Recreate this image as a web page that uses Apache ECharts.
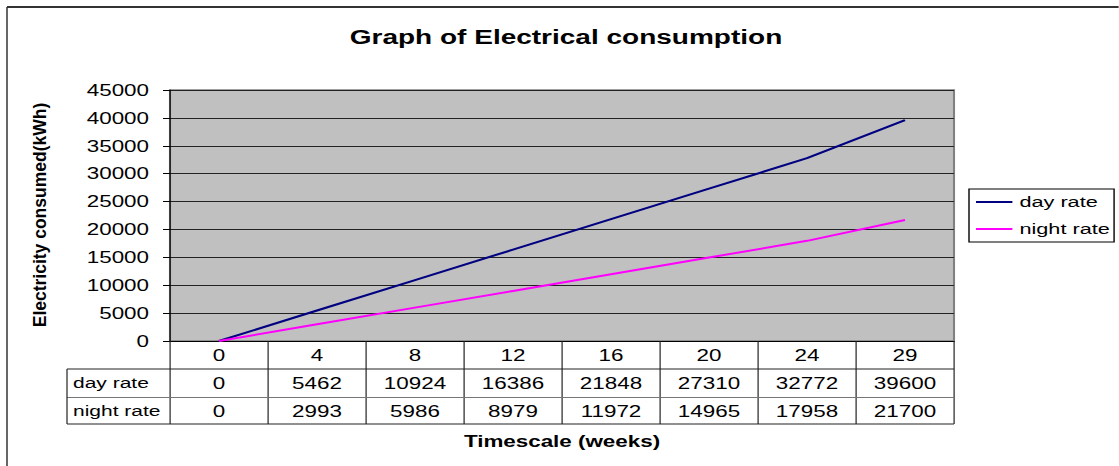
<!DOCTYPE html>
<html>
<head>
<meta charset="utf-8">
<script src="https://cdn.jsdelivr.net/npm/echarts@6/dist/echarts.min.js"></script>
<style>
  html, body { margin: 0; padding: 0; background: #fff; overflow: hidden; }
  #wrap { width: 1119px; height: 466px; overflow: hidden; }
  /* the chart is laid out narrow and widened, giving its wide-set lettering */
  #chart { height: 466px; transform-origin: 0 0; }
</style>
</head>
<body>
<div id="wrap"><div id="chart"></div></div>
<script>
// Electrical consumption over time, day and night tariffs
const weeks = ['0', '4', '8', '12', '16', '20', '24', '29'];
const dayRate = [0, 5462, 10924, 16386, 21848, 27310, 32772, 39600];
const nightRate = [0, 2993, 5986, 8979, 11972, 14965, 17958, 21700];
const seriesNames = ['day rate', 'night rate'];
const yMin = 0, yMax = 45000, yStep = 5000;

const titleText = 'Graph of Electrical consumption';
const xTitle = 'Timescale (weeks)';
const yTitle = 'Electricity consumed(kWh)';

// horizontal widening factor
const K = 1.4;
const W = 1119 / K, H = 466;
const el = document.getElementById('chart');
el.style.width = W + 'px';
el.style.transform = 'scaleX(' + K + ')';

const FONT = '"Liberation Sans", Arial, Helvetica, sans-serif';

// plot frame (y in px, x in unwidened px)
const GL = 170 / K, GR = 954 / K, GT = 90, GB = 341;
const ROW_H = 28;
const TABLE_L = 67 / K;
const rowY1 = GB + ROW_H, rowY2 = GB + 2 * ROW_H + 0.5, rowY3 = 424;

const chart = echarts.init(el, null, { renderer: 'svg', width: W, height: H });

function hLine(x1, x2, y, color, w) {
  return { type: 'line', silent: true, z: 50,
    shape: { x1: x1, y1: y, x2: x2, y2: y },
    style: { stroke: color, lineWidth: w } };
}
function vLine(x, y1, y2, color, w) {
  return { type: 'line', silent: true, z: 50,
    shape: { x1: x, y1: y1, x2: x, y2: y2 },
    style: { stroke: color, lineWidth: w } };
}

const option = {
  backgroundColor: '#fff',
  animation: false,
  grid: {
    left: GL, top: GT, width: GR - GL, height: GB - GT,
    show: true, backgroundColor: '#C0C0C0', borderColor: '#808080', borderWidth: 1.5,
    containLabel: false
  },
  legend: {
    orient: 'vertical',
    left: 969 / K, top: 189,
    data: seriesNames,
    icon: 'rect', itemWidth: 26, itemHeight: 2, itemGap: 11,
    padding: [5, 3, 5, 5],
    borderColor: '#000', borderWidth: 1,
    textStyle: { color: '#000', fontFamily: FONT, fontSize: 15.5 }
  },
  xAxis: {
    type: 'category',
    data: weeks,
    boundaryGap: true,
    axisLine: { show: true, lineStyle: { color: '#000', width: 1.2 } },
    axisTick: { show: true, inside: false, length: rowY3 - GB, alignWithLabel: false,
      lineStyle: { color: '#222', width: 1 / K * 1.2 } },
    splitLine: { show: false },
    axisLabel: {
      interval: 0, margin: 0, hideOverlap: false,
      formatter: function (v, i) {
        return '{c|' + v + '}\n{v|' + dayRate[i] + '}\n{v|' + nightRate[i] + '}';
      },
      rich: {
        c: { fontFamily: FONT, fontSize: 16, lineHeight: ROW_H, color: '#000' },
        v: { fontFamily: FONT, fontSize: 16, lineHeight: ROW_H, color: '#000' }
      }
    }
  },
  yAxis: {
    type: 'value',
    min: yMin, max: yMax, interval: yStep,
    axisLine: { show: true, lineStyle: { color: '#000', width: 1 / K * 1.2 } },
    axisTick: { show: true, length: 5, lineStyle: { color: '#000', width: 1 } },
    splitLine: { show: true, lineStyle: { color: '#222', width: 1 } },
    axisLabel: { color: '#000', fontFamily: FONT, fontSize: 16, margin: 15,
      formatter: function (v) { return String(v); } }
  },
  series: [
    { name: seriesNames[0], type: 'line', data: dayRate, symbol: 'none',
      color: '#000080', lineStyle: { color: '#000080', width: 2 }, z: 3 },
    { name: seriesNames[1], type: 'line', data: nightRate, symbol: 'none',
      color: '#FF00FF', lineStyle: { color: '#FF00FF', width: 2 }, z: 3 }
  ],
  graphic: [
    // chart frame, top and left edges
    hLine(7 / K, W + 2, 7, '#333', 2),
    vLine(7 / K, 7, H + 2, '#333', 1.5 / K),
    // data table rules
    hLine(TABLE_L, GR, rowY1, '#222', 1),
    hLine(TABLE_L, GR, rowY2, '#777', 1.2),
    hLine(TABLE_L, GR, rowY3, '#222', 1),
    vLine(TABLE_L, rowY1, rowY3, '#222', 1.2 / K),
    // row headers
    { type: 'text', silent: true, x: 73 / K, y: GB + ROW_H * 1.5,
      style: { text: seriesNames[0], fill: '#000', font: '15px ' + FONT,
        textAlign: 'left', textVerticalAlign: 'middle' } },
    { type: 'text', silent: true, x: 73 / K, y: GB + ROW_H * 2.5,
      style: { text: seriesNames[1], fill: '#000', font: '15px ' + FONT,
        textAlign: 'left', textVerticalAlign: 'middle' } },
    // title
    { type: 'text', silent: true, x: 566 / K, y: 37,
      style: { text: titleText, fill: '#000', font: 'bold 20px ' + FONT,
        textAlign: 'center', textVerticalAlign: 'middle' } },
    // x axis title
    { type: 'text', silent: true, x: 562 / K, y: 441,
      style: { text: xTitle, fill: '#000', font: 'bold 16px ' + FONT,
        textAlign: 'center', textVerticalAlign: 'middle' } },
    // y axis title, set on end and drawn narrow
    { type: 'text', silent: true, x: 40 / K, y: 215, rotation: Math.PI / 2,
      scaleX: 1.0, scaleY: 0.72,
      style: { text: yTitle, fill: '#000', font: 'bold 17.5px ' + FONT,
        textAlign: 'center', textVerticalAlign: 'middle' } }
  ]
};

chart.setOption(option);
</script>
</body>
</html>
